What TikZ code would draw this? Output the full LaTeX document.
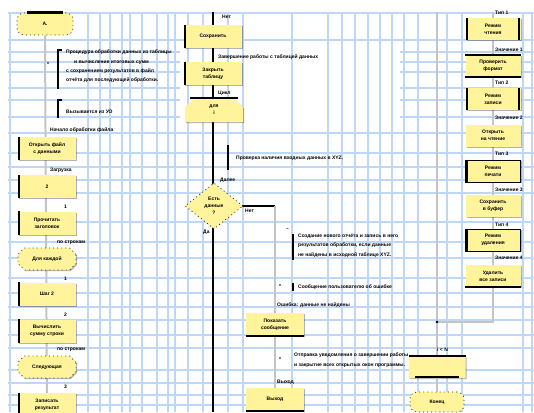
\documentclass[tikz,border=0pt]{standalone}
\usepackage{fontspec}
\setmainfont{Liberation Sans}
\usetikzlibrary{shapes.geometric,shapes.misc,shadows}
\definecolor{gridblue}{HTML}{BFD7F7}
\definecolor{boxyellow}{HTML}{FFF39C}
\definecolor{linegray}{HTML}{C4C4C4}
\begin{document}
\begin{tikzpicture}[x=1pt,y=-1pt,
  every node/.style={font=\fontsize{5}{6.8}\selectfont\bfseries, inner sep=0pt, text=black},
  gridline/.style={draw=gridblue, line width=2pt},
  graywire/.style={draw=linegray, line width=2pt},
  blackwire/.style={draw=black, line width=1.9pt},
  bar/.style={draw=black, line width=2.3pt},
  thinbar/.style={draw=black, line width=1.4pt},
  shade/.style={drop shadow={shadow xshift=1.1pt, shadow yshift=-1.1pt, opacity=0.3, fill=black}},
  box/.style={rectangle, fill=boxyellow, minimum width=58pt, minimum height=23pt, align=center, shade},
  rbox/.style={rectangle, fill=boxyellow, minimum width=55pt, minimum height=22pt, align=center, shade},
  term/.style={rectangle, rounded corners=7pt, fill=boxyellow, minimum width=56pt, minimum height=22pt,
    draw=black!85, line width=0.8pt, dash pattern=on 0.9pt off 3.2pt},
  hexa/.style={chamfered rectangle, chamfered rectangle xsep=4pt, chamfered rectangle ysep=4pt,
    fill=boxyellow, minimum width=58pt, minimum height=22pt, inner sep=0pt,
    draw=black!85, line width=0.8pt, dash pattern=on 0.9pt off 3.2pt, shade},
  loopbeg/.style={chamfered rectangle, chamfered rectangle corners={north west,north east},
    chamfered rectangle xsep=5pt, chamfered rectangle ysep=5pt,
    fill=boxyellow, minimum width=58pt, minimum height=24pt, align=center, shade},
  loopend/.style={chamfered rectangle, chamfered rectangle corners={south west,south east},
    chamfered rectangle xsep=5pt, chamfered rectangle ysep=5pt,
    fill=boxyellow, minimum width=57pt, minimum height=22pt, shade},
  decision/.style={diamond, fill=boxyellow, minimum width=58pt, minimum height=46pt, align=center,
    draw=black!85, line width=0.8pt, dash pattern=on 0.9pt off 3pt},
  lbl/.style={anchor=west},
  cmt/.style={anchor=north west, align=left, font=\fontsize{5}{9.2}\selectfont\bfseries},
  bracket/.style={draw=black, line width=1.4pt},
  dot/.style={fill=black}
]
\useasboundingbox (0,0) rectangle (534,412);
\fill[white] (0,0) rectangle (534,412);

% background grid
\foreach \gx in {10,88,100,110,122,130,142,157,168,175,188,203,228,243,292,328,342,355,368,380,392,404,418,447,462,523,532}
  \draw[gridline] (\gx,12) -- (\gx,412);
\foreach \gy in {13,40,133,153,167,180,193,222,242,258,278,293,307,320,335,348,370,383,395,405}
  \draw[gridline] (8,\gy) -- (534,\gy);
% rows that break off around the middle column
\foreach \gy in {52,62,72,88,100,117} {
  \draw[gridline] (8,\gy) -- (180,\gy);
  \draw[gridline] (400,\gy) -- (534,\gy);
}

% wire ends
\coordinate (lend) at (47,412);
\coordinate (mtop) at (213,12);
\coordinate (mbot) at (213,412);
\coordinate (rb) at (275,206);
\coordinate (rtop) at (437,12);
\coordinate (ctop) at (493,12);
\coordinate (cj) at (493,322);
\coordinate (mj) at (437,322);

% ---------- left column ----------
\node[term] (start) at (45,24) {А.};
\draw[graywire] (start.south) -- (lend);
\draw[bar] ([xshift=-18pt]start.north) -- ([xshift=18pt]start.north);

\node[cmt] (c1) at (66,50) {Процедура обработки данных из таблицы\\
  \hspace{8pt}и вычисление итоговых сумм\\
  с сохранением результатов в файл\\
  отчёта для последующей обработки.};
\draw[bracket] ([xshift=-4pt]c1.north west) -- ([xshift=-8pt]c1.north west) -- ([xshift=-8pt,yshift=-6pt]c1.south west);
\coordinate (c1dot) at (48,63);
\fill[dot] (c1dot) circle (0.9pt);

\node[lbl] (c2) at (66,112) {Вызывается из УО};
\draw[bracket] ([xshift=-4pt,yshift=12pt]c2.west) -- ([xshift=-8pt,yshift=12pt]c2.west) -- ([xshift=-8pt,yshift=-6pt]c2.west);

\node[lbl] (l1) at (50,130) {Начало обработки файла};
\node[box] (b1) at (47,148.5) {Открыть файл\\с данными};
\draw[bar] ([xshift=1pt]b1.north west) -- ([xshift=1pt]b1.south west);

\node[lbl] (l2) at (50,170) {Загрузка};
\node[box] (b2) at (47,186.5) {2};
\draw[bar] ([xshift=1pt]b2.north west) -- ([xshift=1pt]b2.south west);

\node[lbl] (d1) at (64,207) {1};
\node[box] (b3) at (47,223) {Прочитать\\заголовок};
\draw[bar] ([xshift=1pt]b3.north west) -- ([xshift=1pt]b3.south west);

\node[lbl] (l3) at (57,243) {по строкам};
\node[hexa] (h1) at (47,259) {Для каждой};

\node[lbl] (d2) at (64,279) {1};
\node[box] (b4) at (47,294) {Шаг 2};
\draw[bar] ([xshift=1pt]b4.north west) -- ([xshift=1pt]b4.south west);

\node[lbl] (d3) at (64,315) {2};
\node[box] (b5) at (47,331) {Вычислить\\сумму строки};
\draw[bar] ([xshift=1pt]b5.north west) -- ([xshift=1pt]b5.south west);

\node[lbl] (l4) at (57,350) {по строкам};
\node[hexa] (h2) at (47,367) {Следующая};

\node[lbl] (d4) at (64,387) {3};
\node[box] (b6) at (47,404.5) {Записать\\результат};
\draw[bar] ([xshift=1pt]b6.north west) -- ([xshift=1pt]b6.south west);

% ---------- middle column ----------
\draw[blackwire] (mtop) -- (mbot);

\node[lbl] (m0) at (222,17) {Нет};
\node[box] (mb1) at (213,36.5) {Сохранить};
\draw[bar] ([xshift=1pt]mb1.north west) -- ([xshift=1pt]mb1.south west);

\node[lbl] (m1) at (218,57) {Завершение работы с таблицей данных};
\node[box] (mb2) at (213,73.5) {Закрыть\\таблицу};
\draw[bar] ([xshift=1pt]mb2.north west) -- ([xshift=1pt]mb2.south west);

\node[lbl] (m2) at (218,93) {Цикл};
\node[loopbeg] (ls) at (214,110) {для\\i};
\draw[bar] ([xshift=-24pt]ls.north) -- ([xshift=24pt]ls.north);

\node[lbl] (c3) at (236,158) {Проверка наличия входных данных в XYZ.};
\draw[bracket] ([xshift=-8pt,yshift=13pt]c3.west) -- ([xshift=-8pt,yshift=-12pt]c3.west);

\node[lbl] (m3) at (220,180) {Далее};
\draw[blackwire] (214,206) -- (rb);
\node[decision] (dec) at (214,206) {Есть\\данные\\?};
\node[lbl] (yes) at (245,211) {Нет};
\node[lbl] (no) at (203,232) {Да};

% ---------- right branch of the decision ----------
\node[box] (rb2) at (275,399.5) {Выход};
\draw[graywire] (rb) -- (rb2.north);
\node[lbl] (dash1) at (286,230) {–};
\node[cmt] (c4) at (298,234) {Создание нового отчёта и запись в него\\
  результатов обработки, если данные\\
  не найдены в исходной таблице XYZ.};
\draw[bracket] ([xshift=-5pt]c4.north west) -- ([xshift=-5pt,yshift=-3pt]c4.south west);

\node[lbl] (c5) at (298,287) {Сообщение пользователю об ошибке};
\draw[bracket] ([xshift=-5pt,yshift=4pt]c5.west) -- ([xshift=-5pt,yshift=-4pt]c5.west);
\coordinate (c5dot) at (280,285);
\fill[dot] (c5dot) circle (0.8pt);

\node[lbl] (r1) at (277,305) {Ошибка: данные не найдены};
\node[box] (rb1) at (275,324.5) {Показать\\сообщение};
\draw[bar] (rb1.south west) -- (rb1.south east);

\node[cmt] (c6) at (294,353) {Отправка уведомления о завершении работы\\и закрытие всех открытых окон программы.};
\coordinate (c6dot) at (280,358);
\fill[dot] (c6dot) circle (0.8pt);

\node[lbl] (r2) at (277,382) {Выход};
\draw[bar] (rb2.south west) -- (rb2.south east);

% ---------- right column ----------
\node[loopend] (le) at (437,367) {};
\node[term, minimum width=54pt, minimum height=20pt] (te) at (437,402) {Конец};
\draw[graywire] (rtop) -- (le.north);
\draw[graywire] (le.south) -- (te.north);
\draw[graywire] (ctop) -- (cj) -- (mj);
\fill[dot] (mj) circle (1.3pt);
\draw[bar] ([xshift=-28.5pt]le.north) -- ([xshift=28.5pt]le.north);
\draw[thinbar, line width=1.6pt] ([xshift=-22pt,yshift=1pt]le.south) -- ([xshift=22pt,yshift=1pt]le.south);
\node[lbl] (k0) at (437,350) {i < N};

\node[lbl] (t1) at (495,13) {Тип 1};
\node[rbox] (s1) at (493,29) {Режим\\чтения};
\draw[bar] ([xshift=2pt]s1.north west) -- ([xshift=2pt]s1.south west);
\draw[bar] ([xshift=-2pt]s1.north east) -- ([xshift=-2pt]s1.south east);

\node[lbl] (t2) at (495,50) {Значение 1};
\node[rbox] (s2) at (493,66) {Проверить\\формат};
\draw[bar] (s2.north west) -- (s2.north east);
\draw[bar] (s2.south west) -- (s2.south east);

\node[lbl] (t3) at (495,83) {Тип 2};
\node[rbox] (s3) at (493,99) {Режим\\записи};
\draw[bar] ([xshift=2pt]s3.north west) -- ([xshift=2pt]s3.south west);
\draw[bar] ([xshift=-2pt]s3.north east) -- ([xshift=-2pt]s3.south east);

\node[lbl] (t4) at (495,118) {Значение 2};
\node[rbox] (s4) at (493,135.5) {Открыть\\на чтение};

\node[lbl] (t5) at (495,154) {Тип 3};
\node[rbox, draw=black, line width=1pt] (s5) at (493,171) {Режим\\печати};
\draw[bar] ([xshift=2pt]s5.north west) -- ([xshift=2pt]s5.south west);

\node[lbl] (t6) at (495,190) {Значение 3};
\node[rbox] (s6) at (493,206) {Сохранить\\в буфер};

\node[lbl] (t7) at (495,225) {Тип 4};
\node[rbox, draw=black, line width=1pt] (s7) at (493,240) {Режим\\удаления};
\draw[bar] ([xshift=2pt]s7.north west) -- ([xshift=2pt]s7.south west);

\node[lbl] (t8) at (495,258) {Значение 4};
\node[rbox] (s8) at (493,276) {Удалить\\все записи};
\draw[bar] (s8.south west) -- (s8.south east);

\end{tikzpicture}
\end{document}
